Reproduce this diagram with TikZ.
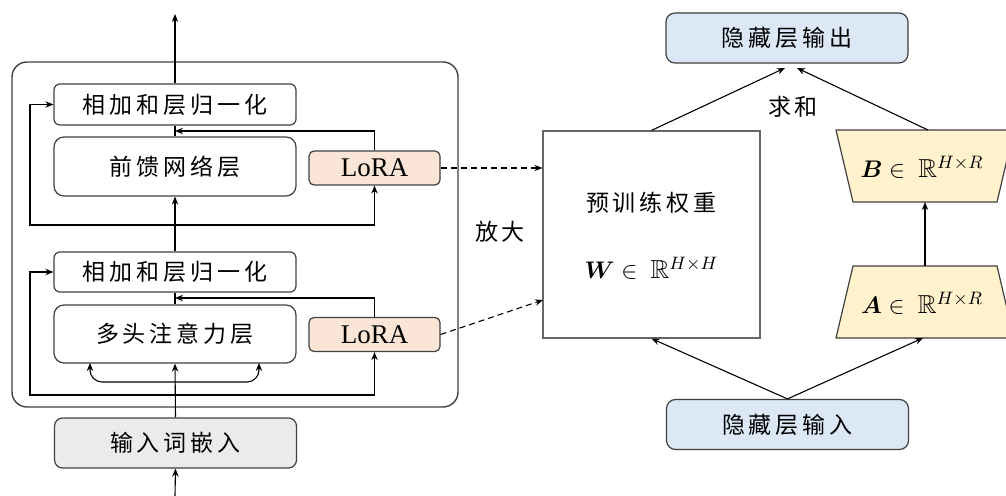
\documentclass[tikz,border=0pt]{standalone}
\usepackage{amsmath,amssymb,bm}
\usepackage{fontspec}
\setmainfont{Liberation Serif}
\newfontfamily\cjk{Noto Sans CJK SC}
\usetikzlibrary{arrows.meta,calc}
\definecolor{lorafill}{HTML}{FBE5D6}
\definecolor{trapfill}{HTML}{FFF2CC}
\definecolor{hidfill}{HTML}{DCE8F6}
\definecolor{embfill}{HTML}{EBEBEB}
\definecolor{edgecol}{HTML}{404040}
\newcommand\cjkfont{\cjk\fontsize{11.5}{13}\selectfont}
\def\zgap{\kern2pt}
\def\zs#1{\zsfirst#1\relax}
\def\zsfirst#1{#1\zsaux}
\def\zsaux#1{\ifx#1\relax\else\zgap#1\expandafter\zsaux\fi}
\begin{document}
\begin{tikzpicture}[x=0.5pt,y=-0.5pt,
  >={Stealth[length=4pt,width=3.2pt]},
  box/.style={draw=edgecol,line width=0.6pt,inner sep=0pt,font=\cjkfont},
  lorabox/.style={box,fill=lorafill,rounded corners=2.5pt,minimum width=65.5pt,minimum height=17pt,font=\fontsize{13.5}{15}\selectfont},
  hidbox/.style={box,fill=hidfill,rounded corners=4.5pt,minimum width=121pt,minimum height=25pt},
  conn/.style={line width=0.55pt},
  dconn/.style={line width=0.55pt,dash pattern=on 3pt off 2pt},
  mathtxt/.style={font=\fontsize{13}{15}\selectfont,inner sep=0pt},
  lbl/.style={font=\cjkfont,inner sep=0pt}]
\useasboundingbox (0,0) rectangle (1006,496);
\clip (0,0) rectangle (1006,496);

% container
\draw[draw=edgecol,line width=0.7pt,rounded corners=7.5pt] (12,62) rectangle (458,407);

% left boxes
\node[box,rounded corners=3pt,minimum width=121pt,minimum height=20.5pt] (an1) at (175,104.5) {\zs{相加和层归一化}};
\node[box,rounded corners=5pt,minimum width=121pt,minimum height=29.5pt] (ffn) at (175,166.5) {\zs{前馈网络层}};
\node[lorabox] (lora1) at (374.5,168) {LoRA};
\node[box,rounded corners=3pt,minimum width=121pt,minimum height=20pt] (an2) at (175,272) {\zs{相加和层归一化}};
\node[box,rounded corners=5pt,minimum width=121pt,minimum height=29pt] (mha) at (175,334) {\zs{多头注意力层}};
\node[lorabox] (lora2) at (374.5,334.5) {LoRA};
\node[box,fill=embfill,rounded corners=4pt,minimum width=121pt,minimum height=25pt] (emb) at (175.5,443) {\zs{输入词嵌入}};

% coordinates
\coordinate (top) at (175,14);
\coordinate (bot) at (175,496);
\coordinate (j1) at (175,131);
\coordinate (r1) at (175,225);
\coordinate (l1) at (30,225);
\coordinate (j2) at (175,298);
\coordinate (r2) at (175,395);
\coordinate (l2) at (30,395);
\coordinate (fl) at (90,363);
\coordinate (fm) at (175,382);
\coordinate (fr) at (259,363);

% left connectors
\draw[conn,->] (an1.north) -- (top);
\draw[conn] (ffn.north) -- (an1.south);
\draw[conn,->] (lora1.north) |- (j1);
\draw[conn,->] (r1) -- (l1) |- (an1.west);
\draw[conn,->] (r1) -| (lora1.south);
\draw[conn,->] (an2.north) -- (ffn.south);
\draw[conn] (mha.north) -- (an2.south);
\draw[conn,->] (lora2.north) |- (j2);
\draw[conn,->] (r2) -- (l2) |- (an2.west);
\draw[conn,->] (r2) -| (lora2.south);
\draw[conn,->] (emb.north) -- (mha.south);
\draw[conn,<->,rounded corners=6pt] (fl) |- (fm) -| (fr);
\draw[conn,->] (bot) -- (emb.south);

% right side
\node[box,draw=edgecol!80,minimum width=108.5pt,minimum height=103.5pt] (W) at (651.5,234.5) {};
\node[lbl] (wtxt) at (651.5,203) {\zs{预训练权重}};
\node[mathtxt] (wmath) at (651.5,268) {$\bm{W}\in\ \mathbb{R}^{H\times H}$};
\node[hidbox] (out) at (787,38) {\zs{隐藏层输出}};
\node[hidbox] (in) at (787.5,424.5) {\zs{隐藏层输入}};

\draw[draw=edgecol,fill=trapfill,line width=0.6pt] (836,130) -- (1014,130) -- (997,202) -- (853,202) -- cycle;
\draw[draw=edgecol,fill=trapfill,line width=0.6pt] (853,266) -- (997,266) -- (1014,338) -- (836,338) -- cycle;
\node[mathtxt] (Btxt) at (922,167) {$\bm{B}\in\ \mathbb{R}^{H\times R}$};
\node[mathtxt] (Atxt) at (922,303) {$\bm{A}\in\ \mathbb{R}^{H\times R}$};
\coordinate (Btop) at (928,130);
\coordinate (Bbot) at (925,202);
\coordinate (Atop) at (925,266);
\coordinate (Abot) at (923,338);
\coordinate (o1) at (785,68);
\coordinate (o2) at (797,68);
\coordinate (wl2) at (543,300);

\draw[conn,->] (W.north) -- (o1);
\draw[conn,->] (Btop) -- (o2);
\draw[conn,->] (Atop) -- (Bbot);
\draw[conn,->] (in.north) -- (W.south);
\draw[conn,->] (in.north) -- (Abot);

\draw[dconn,->] (lora1.east) -- (lora1.east -| W.west);
\draw[dconn,->] (lora2.east) -- (wl2);

\node[lbl] (zoom) at (500,232) {\zs{放大}};
\node[lbl] (sum) at (793,107) {\zs{求和}};
\end{tikzpicture}
\end{document}
